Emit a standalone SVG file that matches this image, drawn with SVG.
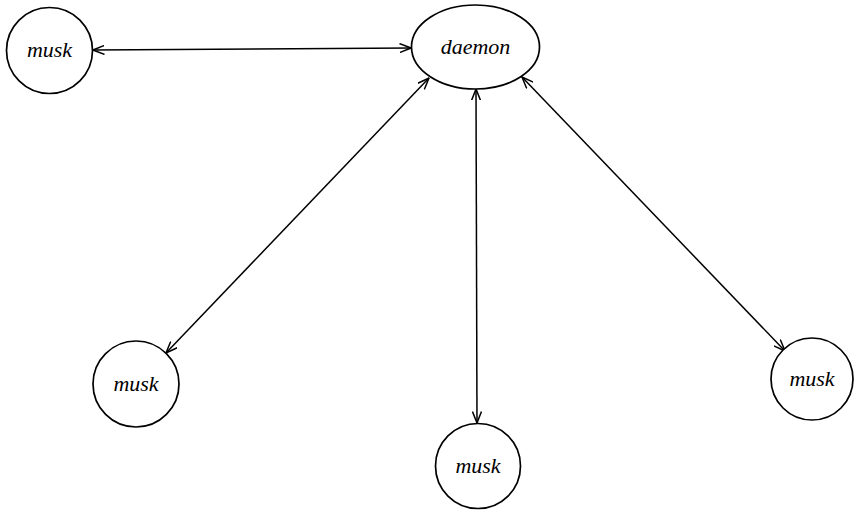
<svg xmlns="http://www.w3.org/2000/svg" width="854" height="510" viewBox="0 0 854 510">
<style>
.node{fill:#fff;stroke:#000;stroke-width:1.7}
.lbl{font-family:"Liberation Serif",serif;font-style:italic;font-size:22px;fill:#000;text-anchor:middle;dominant-baseline:central}
.edge{stroke:#000;stroke-width:1.5;fill:none;marker-start:url(#ah);marker-end:url(#ah)}
</style>
<defs>
<marker id="ah" viewBox="0 0 12 10" refX="11.5" refY="5" markerWidth="12" markerHeight="10" markerUnits="userSpaceOnUse" orient="auto-start-reverse">
<path d="M0,0.5 L11.5,5 L0,9.5" fill="none" stroke="#000" stroke-width="1.5"/>
</marker>
</defs>
<rect width="854" height="510" fill="#fff"/>
<g id="connectors">
<line class="edge" x1="93" y1="50" x2="411" y2="48"/>
<line class="edge" x1="429" y1="78" x2="166" y2="353"/>
<line class="edge" x1="476" y1="89" x2="477" y2="423"/>
<line class="edge" x1="522" y1="77" x2="785" y2="351"/>
</g>
<g id="daemon"><ellipse class="node" cx="475.5" cy="47" rx="64" ry="42"/><text class="lbl" x="475.5" y="46">daemon</text></g>
<g id="musk1"><circle class="node" cx="49.5" cy="50.5" r="43"/><text class="lbl" x="49.5" y="49">musk</text></g>
<g id="musk2"><circle class="node" cx="136" cy="384" r="43"/><text class="lbl" x="136" y="383">musk</text></g>
<g id="musk3"><circle class="node" cx="478" cy="466" r="42.5"/><text class="lbl" x="478" y="465">musk</text></g>
<g id="musk4"><circle class="node" cx="812" cy="379" r="41"/><text class="lbl" x="812" y="378">musk</text></g>
</svg>
